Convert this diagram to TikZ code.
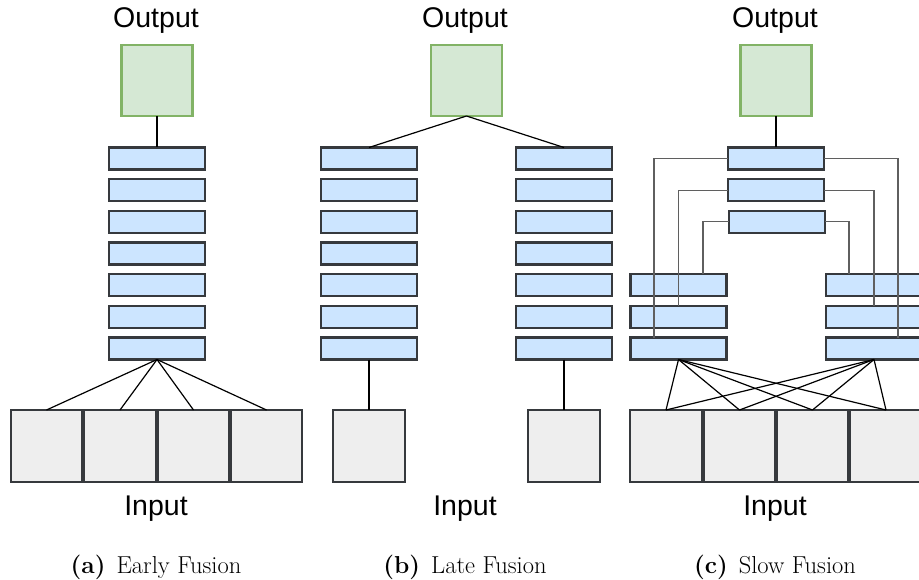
\documentclass[tikz,border=0pt]{standalone}
\usepackage{fontspec}
\newfontfamily\labelfont{Liberation Sans}
\definecolor{barfill}{HTML}{CCE5FF}
\definecolor{darkstroke}{HTML}{36393D}
\definecolor{outfill}{HTML}{D5E8D4}
\definecolor{outstroke}{HTML}{82B366}
\definecolor{infill}{HTML}{EEEEEE}
\definecolor{latgray}{HTML}{5F5F5F}
\tikzset{
  bar/.style={draw=darkstroke, fill=barfill, line width=2.4pt, minimum width=96pt, minimum height=22pt, inner sep=0pt, outer sep=0pt},
  outbox/.style={draw=outstroke, fill=outfill, line width=2.2pt, minimum width=71pt, minimum height=71pt, inner sep=0pt, outer sep=0pt},
  inbox/.style={draw=darkstroke, fill=infill, line width=2.4pt, minimum width=71.5pt, minimum height=72pt, inner sep=0pt, outer sep=0pt},
  conn/.style={draw=black, line width=1.2pt},
  lat/.style={draw=latgray, line width=1.3pt},
  bigtext/.style={font=\labelfont\fontsize{28.5}{32}\selectfont, inner sep=0pt},
  captext/.style={font=\fontsize{24.5}{28}\selectfont, inner sep=0pt}
}
\begin{document}
\begin{tikzpicture}[x=1pt,y=-1pt]
\useasboundingbox (0,0) rectangle (919,580);
% ---------- (a) Early fusion ----------
\node[bigtext] (aout) at (156,20.5) {Output};
\node[outbox] (ao) at (157,80.5) {};
\foreach \i/\y in {1/158.5,2/190.2,3/221.8,4/253.5,5/285.2,6/316.8,7/348.5}
  \node[bar] (ab\i) at (157,\y) {};
\foreach \i/\x in {1/46.5,2/120,3/193.5,4/266.5}
  \node[inbox] (ai\i) at (\x,446) {};
\draw[conn] (ao.south) -- (ab1.north);
\foreach \i in {1,2,3,4}
  \draw[conn] (ab7.south) -- (ai\i.north);
\node[bigtext] (ain) at (156,508.5) {Input};
\node[captext] (acap) at (156,567) {\textbf{(a)}\hspace{0.45em}Early Fusion};
% ---------- (b) Late fusion ----------
\node[bigtext] (bout) at (465,20.5) {Output};
\node[outbox] (bo) at (466.5,80.5) {};
\foreach \i/\y in {1/158.5,2/190.2,3/221.8,4/253.5,5/285.2,6/316.8,7/348.5}{
  \node[bar] (bl\i) at (369,\y) {};
  \node[bar] (br\i) at (564,\y) {};
}
\node[inbox] (bil) at (369,446) {};
\node[inbox] (bir) at (564,446) {};
\draw[conn] (bo.south) -- (bl1.north);
\draw[conn] (bo.south) -- (br1.north);
\draw[conn] (bl7.south) -- (bil.north);
\draw[conn] (br7.south) -- (bir.north);
\node[bigtext] (bin) at (465,508.5) {Input};
\node[captext] (bcap) at (465,567) {\textbf{(b)}\hspace{0.45em}Late Fusion};
% ---------- (c) Slow fusion ----------
\node[bigtext] (cout) at (775,20.5) {Output};
\node[outbox] (co) at (776,80.5) {};
\node[bar] (ct1) at (776,158.5) {};
\node[bar] (ct2) at (776,190.2) {};
\node[bar] (ct3) at (777,221.8) {};
\foreach \i/\y in {1/285.2,2/316.8,3/348.5}{
  \node[bar] (cl\i) at (678.5,\y) {};
  \node[bar] (cr\i) at (874,\y) {};
}
\foreach \i/\x in {1/666,2/739.5,3/812.5,4/886}
  \node[inbox] (ci\i) at (\x,446) {};
\draw[conn] (co.south) -- (ct1.north);
% lateral connections
\draw[lat] (ct1.west) -| ([xshift=-24.5pt]cl3.north);
\draw[lat] (ct2.west) -| (cl2.north);
\draw[lat] (ct3.west) -| ([xshift=24.5pt]cl1.north);
\draw[lat] (ct1.east) -| ([xshift=24pt]cr3.north);
\draw[lat] (ct2.east) -| (cr2.north);
\draw[lat] (ct3.east) -| ([xshift=-25pt]cr1.north);
\foreach \i in {1,2,3,4}{
  \draw[conn] (cl3.south) -- (ci\i.north);
  \draw[conn] (cr3.south) -- (ci\i.north);
}
\node[bigtext] (cin) at (775,508.5) {Input};
\node[captext] (ccap) at (775,567) {\textbf{(c)}\hspace{0.45em}Slow Fusion};
\end{tikzpicture}
\end{document}
